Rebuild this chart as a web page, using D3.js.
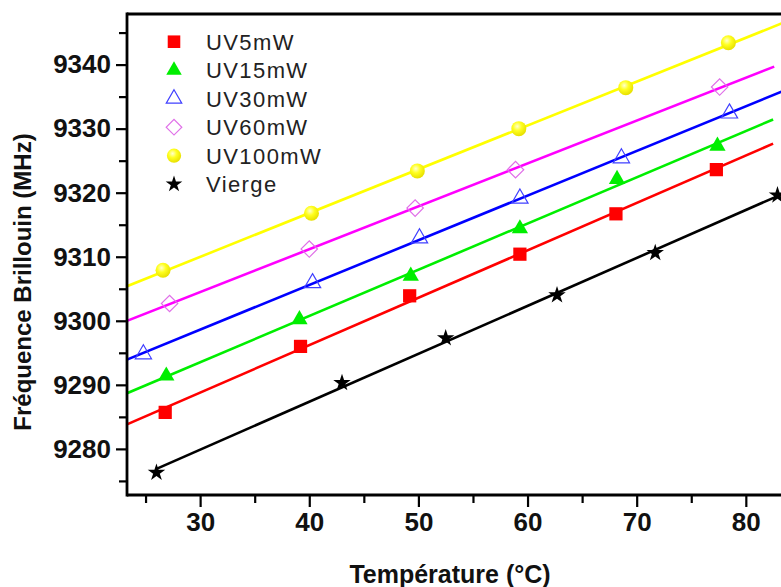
<!DOCTYPE html>
<html>
<head>
<meta charset="utf-8">
<script src="https://cdn.jsdelivr.net/npm/d3@7"></script>
<style>
  html, body { margin: 0; padding: 0; background: #fff; }
  svg { display: block; font-family: "Liberation Sans", Arial, sans-serif; }
</style>
</head>
<body>
<svg id="chart" width="781" height="587"></svg>
<script>
// ---------------- DATA ----------------
const seriesNames = ["UV5mW", "UV15mW", "UV30mW", "UV60mW", "UV100mW", "Vierge"];

const tempUV5   = [26.8, 39.2, 49.2, 59.3, 68.1, 77.3];
const freqUV5   = [9285.7, 9296.0, 9303.9, 9310.4, 9316.7, 9323.6];

const tempUV15  = [26.9, 39.1, 49.3, 59.3, 68.2, 77.4];
const freqUV15  = [9291.4, 9300.2, 9307.0, 9314.4, 9322.1, 9327.3];

const tempUV30  = [24.8, 40.3, 50.1, 59.3, 68.6, 78.5];
const freqUV30  = [9294.8, 9305.9, 9312.9, 9319.1, 9325.4, 9332.4];

const tempUV60  = [27.2, 40.0, 49.7, 58.9, 77.6];
const freqUV60  = [9302.7, 9311.2, 9317.6, 9323.6, 9336.5];

const tempUV100 = [26.6, 40.2, 49.9, 59.2, 69.0, 78.4];
const freqUV100 = [9307.9, 9316.8, 9323.4, 9330.0, 9336.4, 9343.4];

const tempVierge = [26.0, 43.0, 52.5, 62.7, 71.7, 82.9];
const freqVierge = [9276.3, 9290.3, 9297.3, 9304.0, 9310.6, 9319.6];

// temperature range over which each linear fit line is drawn
const fitStartTemp = [23.3, 23.3, 23.3, 23.3, 23.3, 26.0];
const fitEndTemp   = [82.5, 82.5, 85.0, 82.6, 85.0, 85.0];

const xTickValues = [30, 40, 50, 60, 70, 80];
const xMinorTicks = [25, 35, 45, 55, 65, 75];
const yTickValues = [9280, 9290, 9300, 9310, 9320, 9330, 9340];
const yMinorTicks = [9275, 9285, 9295, 9305, 9315, 9325, 9335, 9345];

const xTitle = "Température (°C)";
const yTitle = "Fréquence Brillouin (MHz)";

// ---------------- STYLE ----------------
const temps = [tempUV5, tempUV15, tempUV30, tempUV60, tempUV100, tempVierge];
const freqs = [freqUV5, freqUV15, freqUV30, freqUV60, freqUV100, freqVierge];
const lineColors = ["#ff0000", "#00ee00", "#0000ff", "#ff00ff", "#ffff00", "#000000"];

const svg = d3.select("#chart");
const W = 781, H = 587;
const pLeft = 127, pTop = 14, pBottom = 495;

const x = d3.scaleLinear().domain([23.3, 85]).range([pLeft, pLeft + 61.7 * 10.914]);
const y = d3.scaleLinear().domain([9272.8, 9347.9]).range([pBottom, pTop]);

// defs
const defs = svg.append("defs");
defs.append("clipPath").attr("id", "plotclip")
  .append("rect").attr("x", pLeft).attr("y", pTop).attr("width", W - pLeft).attr("height", pBottom - pTop);
const grad = defs.append("radialGradient").attr("id", "ball")
  .attr("cx", "40%").attr("cy", "35%").attr("r", "65%");
grad.append("stop").attr("offset", "0%").attr("stop-color", "#ffffd0");
grad.append("stop").attr("offset", "45%").attr("stop-color", "#ffff20");
grad.append("stop").attr("offset", "100%").attr("stop-color", "#e8e000");

// marker drawing
function drawMarker(g, i, cx, cy, scale) {
  const s = scale || 1;
  if (i === 0) {
    g.append("path").attr("d", d3.symbol(d3.symbolSquare, 175 * s * s)())
      .attr("transform", `translate(${cx},${cy})`).attr("fill", "#ff0000");
  } else if (i === 1) {
    g.append("path").attr("d", d3.symbol(d3.symbolTriangle, 115 * s * s)())
      .attr("transform", `translate(${cx},${cy})`).attr("fill", "#00ee00");
  } else if (i === 2) {
    g.append("path").attr("d", d3.symbol(d3.symbolTriangle, 115 * s * s)())
      .attr("transform", `translate(${cx},${cy})`).attr("fill", "none")
      .attr("stroke", "#4040ff").attr("stroke-width", 1.2);
  } else if (i === 3) {
    g.append("path").attr("d", d3.symbol(d3.symbolSquare, 135 * s * s)())
      .attr("transform", `translate(${cx},${cy}) rotate(45)`).attr("fill", "none")
      .attr("stroke", "#e070e8").attr("stroke-width", 1.2);
  } else if (i === 4) {
    g.append("circle").attr("cx", cx).attr("cy", cy).attr("r", 7.5 * s)
      .attr("fill", "url(#ball)");
  } else {
    g.append("path").attr("d", d3.symbol(d3.symbolStar, 95 * s * s)())
      .attr("transform", `translate(${cx},${cy})`).attr("fill", "#000");
  }
}

// ---------------- FIT LINES ----------------
const plot = svg.append("g").attr("clip-path", "url(#plotclip)");
seriesNames.forEach((name, i) => {
  const xs = temps[i], ys = freqs[i];
  const mx = d3.mean(xs), my = d3.mean(ys);
  const sxy = d3.sum(xs, (v, k) => (v - mx) * (ys[k] - my));
  const sxx = d3.sum(xs, v => (v - mx) * (v - mx));
  const slope = sxy / sxx, icpt = my - slope * mx;
  const ends = [fitStartTemp[i], fitEndTemp[i]];
  plot.append("path")
    .attr("d", d3.line().x(t => x(t)).y(t => y(icpt + slope * t))(ends))
    .attr("stroke", lineColors[i]).attr("stroke-width", 2.6).attr("fill", "none");
});

// ---------------- MARKERS ----------------
const mk = svg.append("g");
seriesNames.forEach((name, i) => {
  temps[i].forEach((t, k) => drawMarker(mk, i, x(t), y(freqs[i][k])));
});

// ---------------- AXES ----------------
const axG = svg.append("g");
axG.append("line").attr("x1", pLeft).attr("x2", W).attr("y1", pTop).attr("y2", pTop)
  .attr("stroke", "#000").attr("stroke-width", 2.8);
axG.append("line").attr("x1", pLeft).attr("x2", pLeft).attr("y1", pTop - 1.4).attr("y2", pBottom + 1.4)
  .attr("stroke", "#000").attr("stroke-width", 2.8);
axG.append("line").attr("x1", pLeft).attr("x2", W).attr("y1", pBottom).attr("y2", pBottom)
  .attr("stroke", "#000").attr("stroke-width", 2.8);

// x axis ticks
const xAxis = d3.axisBottom(x).tickValues(xTickValues).tickSize(11).tickPadding(6).tickFormat(d3.format("d"));
const xg = svg.append("g").attr("transform", `translate(0,${pBottom + 1})`).call(xAxis);
xg.select(".domain").remove();
xg.selectAll(".tick line").attr("stroke-width", 2.2);
xg.selectAll(".tick text").attr("font-size", 26).attr("font-weight", "bold")
  .attr("font-family", "Liberation Sans, Arial, sans-serif").attr("fill", "#111");
const xm = d3.axisBottom(x).tickValues(xMinorTicks).tickSize(7).tickFormat("");
const xmg = svg.append("g").attr("transform", `translate(0,${pBottom + 1})`).call(xm);
xmg.select(".domain").remove();
xmg.selectAll(".tick line").attr("stroke-width", 2.2);

// y axis ticks
const yAxis = d3.axisLeft(y).tickValues(yTickValues).tickSize(10).tickPadding(5).tickFormat(d3.format("d"));
const yg = svg.append("g").attr("transform", `translate(${pLeft - 1},0)`).call(yAxis);
yg.select(".domain").remove();
yg.selectAll(".tick line").attr("stroke-width", 2.2);
yg.selectAll(".tick text").attr("font-size", 26).attr("font-weight", "bold")
  .attr("font-family", "Liberation Sans, Arial, sans-serif").attr("fill", "#111");
const ym = d3.axisLeft(y).tickValues(yMinorTicks).tickSize(7).tickFormat("");
const ymg = svg.append("g").attr("transform", `translate(${pLeft - 1},0)`).call(ym);
ymg.select(".domain").remove();
ymg.selectAll(".tick line").attr("stroke-width", 2.2);

// titles
svg.append("text").attr("x", 450).attr("y", 583).attr("text-anchor", "middle")
  .attr("font-size", 25).attr("font-weight", "bold").attr("fill", "#111").text(xTitle);
svg.append("text").attr("transform", "translate(31,282) rotate(-90)").attr("text-anchor", "middle")
  .attr("font-size", 24).attr("font-weight", "bold").attr("fill", "#111").text(yTitle);

// ---------------- LEGEND ----------------
const lg = svg.append("g");
seriesNames.forEach((name, i) => {
  const cy = 41.7 + i * 28.5;
  drawMarker(lg, i, 174, cy, 0.95);
  lg.append("text").attr("x", 206).attr("y", cy).attr("dy", "0.36em")
    .attr("font-size", 22).attr("letter-spacing", 1.4).attr("fill", "#222").text(name);
});
</script>
</body>
</html>
